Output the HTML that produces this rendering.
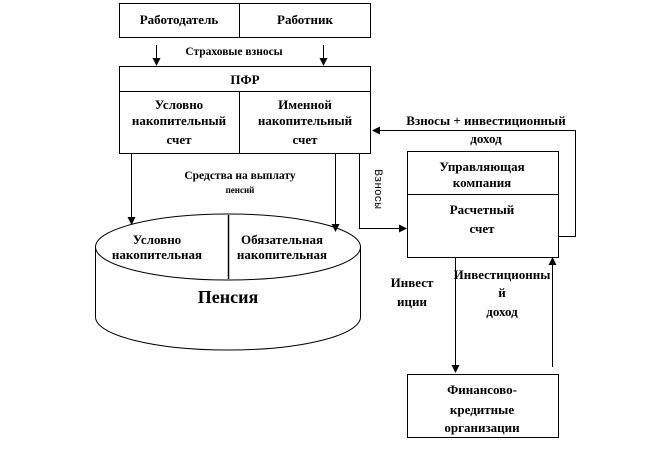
<!DOCTYPE html><html><head><meta charset="utf-8"><style>
body{margin:0;background:#fff;width:672px;height:451px;overflow:hidden}
svg text{font-family:"Liberation Serif",serif;font-weight:bold;fill:#000;text-anchor:middle}
</style></head><body>
<svg width="672" height="451" viewBox="0 0 672 451" font-size="13">
<defs><marker id="a" markerWidth="8" markerHeight="8" refX="7" refY="4" orient="auto" markerUnits="userSpaceOnUse"><path d="M0,0L8,4L0,8z" fill="#000"/></marker></defs>
<g fill="none" stroke="#000" stroke-width="1">
<rect x="119.5" y="3.5" width="251" height="34"/><line x1="239.5" y1="3" x2="239.5" y2="37"/>
<rect x="119.5" y="66.5" width="251" height="87"/><line x1="119" y1="91.5" x2="370" y2="91.5"/><line x1="239.5" y1="91" x2="239.5" y2="153"/>
<line x1="156.5" y1="45" x2="156.5" y2="65" marker-end="url(#a)"/>
<line x1="323.5" y1="45" x2="323.5" y2="65" marker-end="url(#a)"/>
<line x1="131.5" y1="153" x2="131.5" y2="224" marker-end="url(#a)"/>
<line x1="335.5" y1="153" x2="335.5" y2="231" marker-end="url(#a)"/>
<polyline points="359.5,153 359.5,228.5 406,228.5" marker-end="url(#a)"/>
<rect x="407.5" y="151.5" width="151" height="106"/><line x1="407" y1="194.5" x2="558" y2="194.5"/>
<polyline points="558,236.5 575.5,236.5 575.5,130.5 373,130.5" marker-end="url(#a)"/>
<line x1="455.5" y1="257" x2="455.5" y2="372" marker-end="url(#a)"/>
<line x1="552.5" y1="367" x2="552.5" y2="258" marker-end="url(#a)"/>
<rect x="407.5" y="374.5" width="151" height="63"/>
<path d="M95.5,247 A132.5,33 0 0 1 360.5,247 A132.5,33 0 0 1 95.5,247 Z"/>
<path d="M95.5,247 L95.5,317 A132.5,33 0 0 0 360.5,317 L360.5,247"/>
<line x1="228.5" y1="215" x2="228.5" y2="279" stroke-width="1.5"/>
</g>
<text x="179" y="24">Работодатель</text><text x="305" y="24">Работник</text>
<text x="234" y="55" style="font-size:11.5px">Страховые взносы</text>
<text x="245" y="84">ПФР</text>
<text x="179" y="109">Условно</text><text x="179" y="125">накопительный</text><text x="179" y="144">счет</text>
<text x="305" y="109">Именной</text><text x="305" y="125">накопительный</text><text x="305" y="144">счет</text>
<text x="240" y="179" style="font-size:11.5px">Средства на выплату</text><text x="240" y="193" style="font-size:9px">пенсий</text>
<text x="157" y="244">Условно</text><text x="157" y="259">накопительная</text>
<text x="282" y="244">Обязательная</text><text x="282" y="259">накопительная</text>
<text x="228" y="303" style="font-size:18px">Пенсия</text>
<text x="486" y="125">Взносы + инвестиционный</text><text x="486" y="143">доход</text>
<text transform="translate(375,189) rotate(90)" style="font-weight:normal;font-family:'Liberation Mono',monospace;font-size:11px">Взносы</text>
<text x="482" y="171">Управляющая</text><text x="482" y="187">компания</text>
<text x="482" y="214">Расчетный</text><text x="482" y="233">счет</text>
<text x="412" y="287">Инвест</text><text x="412" y="306">иции</text>
<text x="502" y="279">Инвестиционны</text><text x="502" y="297">й</text><text x="502" y="316">доход</text>
<text x="482" y="394">Финансово-</text><text x="482" y="414">кредитные</text><text x="482" y="432">организации</text>
</svg></body></html>
